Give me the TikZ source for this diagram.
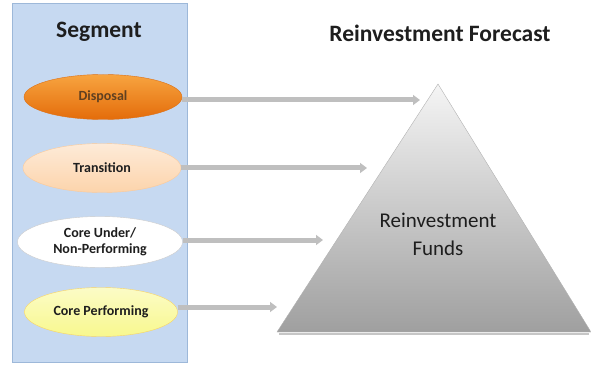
\documentclass[tikz,border=0pt]{standalone}
\usepackage{fontspec}
\setmainfont{Carlito}
\usetikzlibrary{shapes.geometric,arrows.meta}

\definecolor{panelblue}{HTML}{C6D9F1}
\definecolor{paneledge}{HTML}{9DB8D9}
\definecolor{dispfill}{HTML}{F7A440}
\definecolor{dispdark}{HTML}{E46C0A}
\definecolor{transfill}{HTML}{FCDDBE}
\definecolor{coreyellow}{HTML}{F8F88E}
\definecolor{textdark}{HTML}{1E1E1E}

\tikzset{
  seg/.style={ellipse,minimum width=158pt,minimum height=49pt,inner sep=0pt,
    align=center,font=\fontsize{14}{16}\selectfont\bfseries,text=textdark},
  feed/.style={line width=5pt,draw=gray!50,-{Triangle[length=7pt,width=10pt]}},
  heading/.style={font=\fontsize{23.5}{26}\selectfont\bfseries,text=textdark}
}

\begin{document}
\begin{tikzpicture}[x=1pt,y=-1pt]
		\useasboundingbox (0,0) rectangle (591,366);

		% segment column
		\filldraw[fill=panelblue,draw=paneledge,line width=1pt] (12,4) rectangle (187,362);
		\node[heading] (segtitle) at (99,32) {Segment};
		\node[heading] (fctitle) at (440,33) {Reinvestment Forecast};

		\node[seg,top color=dispfill,bottom color=dispdark,draw=dispdark!80!brown,minimum height=45pt,text=brown!50!black] (disposal) at (103,97) {Disposal};
		\node[seg,top color=transfill!60!white,bottom color=transfill!90!orange,draw=transfill!80!orange] (transition) at (102,168) {Transition};
		\node[seg,fill=white,draw=gray!40,minimum width=165pt,minimum height=51pt] (coreunder) at (100,242) {Core Under/\\Non-Performing};
		\node[seg,top color=coreyellow!50!white,bottom color=coreyellow,draw=coreyellow!70!orange,minimum width=153pt] (coreperf) at (101,312) {Core Performing};

		% pyramid
		\shade[top color=gray!8,bottom color=gray!75,draw=gray!60] (438,84) -- (591,332) -- (277,332) -- cycle;
		\draw[gray!45,line width=2pt] (279,334) -- (589,334);
		\node[font=\fontsize{21}{28}\selectfont,text=textdark,align=center] (funds) at (438,234) {Reinvestment\\Funds};

		\coordinate (tipA) at (420,100);
		\coordinate (tipB) at (367,168);
		\coordinate (tipC) at (323,240);
		\coordinate (tipD) at (277,307);

		\draw[feed] (disposal.east |- tipA) -- (tipA);
		\draw[feed] (transition.east |- tipB) -- (tipB);
		\draw[feed] (coreunder.east |- tipC) -- (tipC);
		\draw[feed] (coreperf.east |- tipD) -- (tipD);
\end{tikzpicture}
\end{document}
